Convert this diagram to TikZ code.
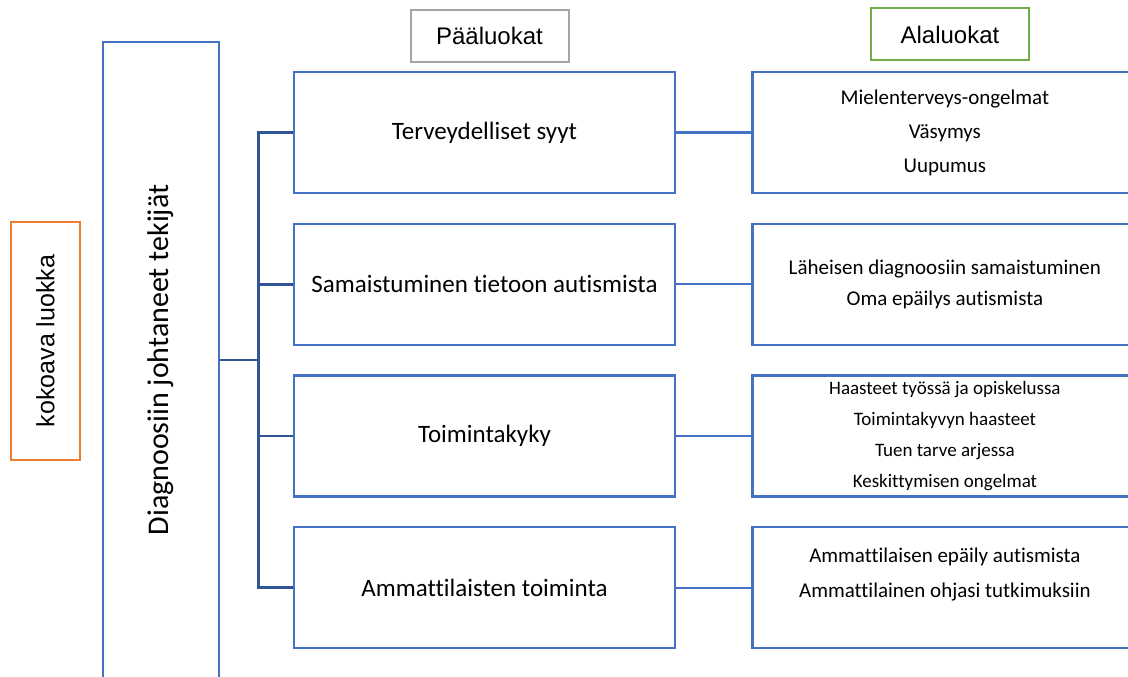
\documentclass[tikz,border=0pt]{standalone}
\usepackage{fontspec}
\setmainfont{Carlito}[Ligatures=NoCommon]
\newfontfamily\arialfont{Liberation Sans}
\usetikzlibrary{positioning}
\definecolor{boxblue}{HTML}{4472C4}
\definecolor{busblue}{HTML}{2F5597}
\definecolor{catorange}{HTML}{ED7D31}
\definecolor{catgreen}{HTML}{70AD47}
\definecolor{catgray}{HTML}{A5A5A5}
\tikzstyle{block} = [draw=boxblue, line width=2.4pt, fill=white, rectangle, inner sep=0pt]
\tikzstyle{mainblock} = [block, minimum width=381pt, minimum height=121pt,
    font=\fontsize{25}{30}\selectfont]
\tikzstyle{subblock} = [block, minimum width=385pt, minimum height=121pt,
    align=center, font=\fontsize{21}{34}\selectfont]
\tikzstyle{header} = [draw, line width=2pt, rectangle, fill=white,
    minimum width=158pt, minimum height=52pt, font=\arialfont\fontsize{24}{28}\selectfont]
\tikzstyle{link} = [draw=boxblue, line width=2.2pt]
\tikzstyle{bus} = [draw=busblue, line width=2.6pt]

\begin{document}
\begin{tikzpicture}[x=1pt, y=-1pt, node distance=28.3pt]
    \clip (0,0) rectangle (1128,677);
    \node [header, draw=catorange, minimum width=69pt, minimum height=238pt,
        font=\arialfont\fontsize{25}{30}\selectfont] (koko) at (45.5,341) {\rotatebox{90}{kokoava luokka}};
    \node [block, minimum width=116pt, minimum height=636pt,
        font=\fontsize{30}{36}\selectfont] (diag) at (161,360) {\rotatebox{90}{Diagnoosiin johtaneet tekijät}};
    \node [mainblock] (m1) at (484.5,132.5) {Terveydelliset syyt};
    \node [mainblock, below=of m1] (m2) {Samaistuminen tietoon autismista};
    \node [mainblock, below=of m2] (m3) {Toimintakyky};
    \node [mainblock, below=of m3] (m4) {Ammattilaisten toiminta};
    \node [subblock, right=75pt of m1] (s1) {Mielenterveys-ongelmat\\Väsymys\\Uupumus};
    \node [subblock, right=75pt of m2, font=\fontsize{21}{31}\selectfont] (s2)
        {Läheisen diagnoosiin samaistuminen\\Oma epäilys autismista};
    \node [subblock, right=75pt of m3, font=\fontsize{19}{31}\selectfont] (s3)
        {Haasteet työssä ja opiskelussa\\Toimintakyvyn haasteet\\Tuen tarve arjessa\\Keskittymisen ongelmat};
    \node [subblock, right=75pt of m4, font=\fontsize{21}{35}\selectfont, text depth=30pt] (s4)
        {Ammattilaisen epäily autismista\\Ammattilainen ohjasi tutkimuksiin};
    \node [header, draw=catgray] (paa) at (489.5,36) {Pääluokat};
    \node [header, draw=catgreen] (ala) at (950,34.5) {Alaluokat};
    \draw [bus] (diag.east) -- ++(38,0) coordinate (hub);
    \foreach \i in {1,...,4} {
        \draw [bus] (hub) |- (m\i.west);
        \draw [link] (m\i.east) -- (s\i.west);
    }
\end{tikzpicture}
\end{document}
